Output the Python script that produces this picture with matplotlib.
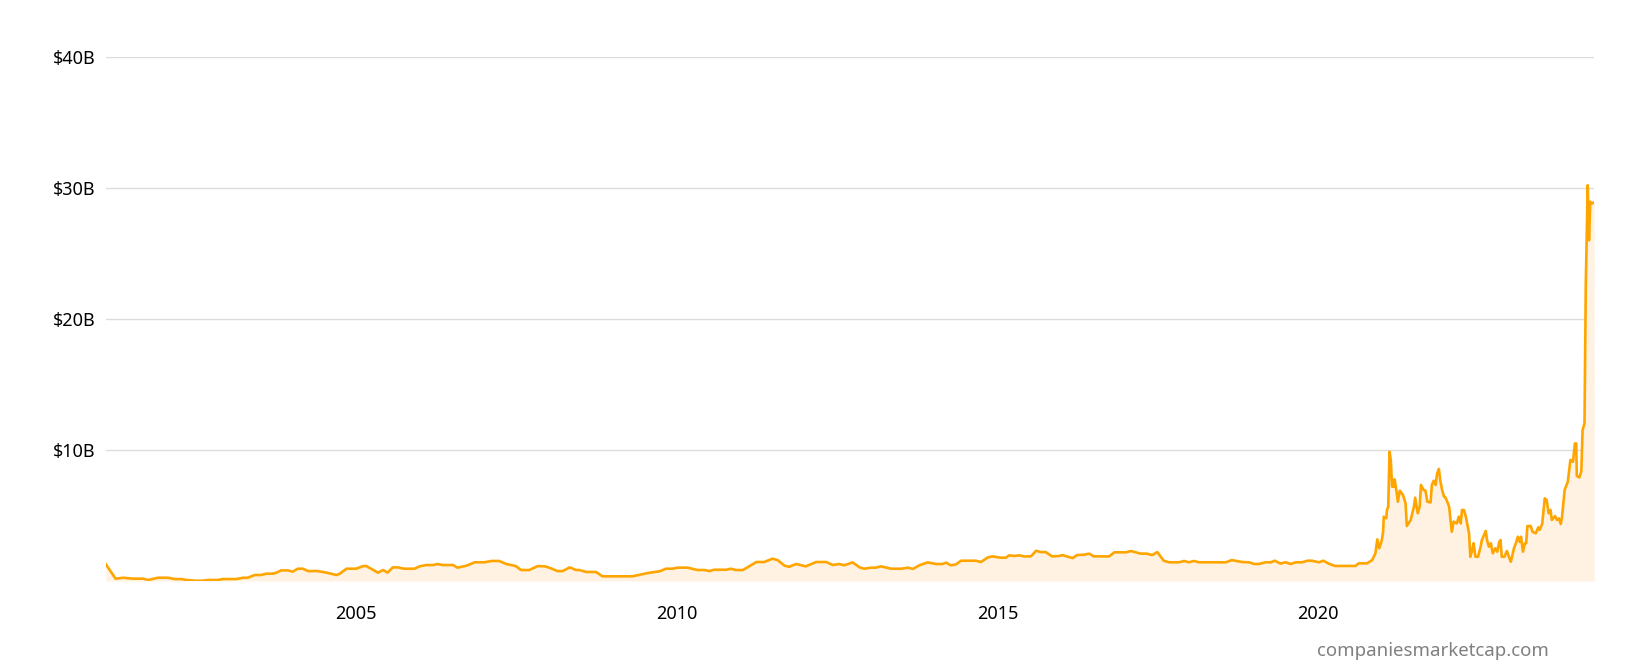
import matplotlib
matplotlib.use('Agg')
import matplotlib.pyplot as plt
from matplotlib.ticker import FuncFormatter

plt.rcParams['font.family'] = ['Noto Sans', 'DejaVu Sans']

# market cap in billions USD, x in decimal years
years = [
	2001.10, 2001.25, 2001.37, 2001.52, 2001.68, 2001.76, 2001.91, 2002.07, 2002.17, 2002.28,
	2002.35, 2002.51, 2002.59, 2002.69, 2002.85, 2002.92, 2003.13, 2003.24, 2003.31, 2003.42,
	2003.52, 2003.60, 2003.70, 2003.76, 2003.83, 2003.94, 2004.01, 2004.09, 2004.17, 2004.25,
	2004.40, 2004.54, 2004.69, 2004.74, 2004.85, 2005.00, 2005.11, 2005.16, 2005.34, 2005.42,
	2005.49, 2005.57, 2005.65, 2005.75, 2005.91, 2005.99, 2006.09, 2006.20, 2006.27, 2006.35,
	2006.51, 2006.58, 2006.72, 2006.85, 2007.00, 2007.11, 2007.23, 2007.34, 2007.49, 2007.57,
	2007.70, 2007.83, 2007.94, 2008.01, 2008.14, 2008.22, 2008.33, 2008.43, 2008.48, 2008.59,
	2008.74, 2008.84, 2009.31, 2009.42, 2009.57, 2009.73, 2009.83, 2009.93, 2010.01, 2010.17,
	2010.32, 2010.43, 2010.51, 2010.58, 2010.77, 2010.84, 2010.92, 2011.03, 2011.24, 2011.36,
	2011.49, 2011.57, 2011.68, 2011.75, 2011.86, 2012.01, 2012.17, 2012.33, 2012.43, 2012.53,
	2012.61, 2012.74, 2012.85, 2012.92, 2013.03, 2013.10, 2013.18, 2013.34, 2013.50, 2013.60,
	2013.68, 2013.78, 2013.91, 2014.04, 2014.14, 2014.20, 2014.27, 2014.35, 2014.43, 2014.66,
	2014.74, 2014.85, 2014.92, 2015.05, 2015.13, 2015.18, 2015.26, 2015.34, 2015.41, 2015.52,
	2015.60, 2015.67, 2015.75, 2015.85, 2015.96, 2016.01, 2016.17, 2016.24, 2016.35, 2016.43,
	2016.50, 2016.74, 2016.82, 2017.00, 2017.08, 2017.23, 2017.33, 2017.41, 2017.49, 2017.59,
	2017.67, 2017.83, 2017.91, 2017.98, 2018.06, 2018.14, 2018.56, 2018.65, 2018.81, 2018.92,
	2019.00, 2019.07, 2019.18, 2019.26, 2019.32, 2019.41, 2019.49, 2019.57, 2019.65, 2019.75,
	2019.83, 2019.90, 2020.01, 2020.08, 2020.16, 2020.26, 2020.58, 2020.63, 2020.76, 2020.84,
	2020.89, 2020.92, 2020.95, 2020.99, 2021.01, 2021.02, 2021.06, 2021.07, 2021.09, 2021.11,
	2021.13, 2021.15, 2021.18, 2021.19, 2021.22, 2021.24, 2021.27, 2021.32, 2021.36, 2021.38,
	2021.44, 2021.49, 2021.51, 2021.55, 2021.58, 2021.60, 2021.64, 2021.67, 2021.70, 2021.75,
	2021.77, 2021.80, 2021.83, 2021.85, 2021.88, 2021.90, 2021.93, 2021.96, 2021.98, 2022.01,
	2022.04, 2022.08, 2022.11, 2022.16, 2022.19, 2022.22, 2022.24, 2022.27, 2022.30, 2022.35,
	2022.37, 2022.40, 2022.42, 2022.45, 2022.49, 2022.53, 2022.55, 2022.61, 2022.63, 2022.66,
	2022.69, 2022.72, 2022.76, 2022.79, 2022.82, 2022.84, 2022.86, 2022.90, 2022.94, 2023.00,
	2023.02, 2023.05, 2023.08, 2023.11, 2023.14, 2023.16, 2023.19, 2023.22, 2023.24, 2023.26,
	2023.31, 2023.34, 2023.39, 2023.43, 2023.45, 2023.49, 2023.53, 2023.56, 2023.59, 2023.62,
	2023.64, 2023.69, 2023.72, 2023.75, 2023.78, 2023.80, 2023.84, 2023.86, 2023.89, 2023.93,
	2023.97, 2024.00, 2024.02, 2024.03, 2024.07, 2024.10, 2024.12, 2024.15, 2024.17, 2024.20,
	2024.22, 2024.24, 2024.26, 2024.30,
]
cap_b = [
	1.27, 0.18, 0.25, 0.18, 0.18, 0.08, 0.25, 0.25, 0.15, 0.15,
	0.08, 0.02, 0.02, 0.08, 0.08, 0.15, 0.15, 0.25, 0.25, 0.46,
	0.46, 0.56, 0.56, 0.64, 0.81, 0.81, 0.71, 0.94, 0.94, 0.76,
	0.76, 0.64, 0.46, 0.54, 0.94, 0.94, 1.14, 1.14, 0.64, 0.84,
	0.64, 1.04, 1.04, 0.94, 0.94, 1.12, 1.22, 1.22, 1.30, 1.22,
	1.22, 1.02, 1.17, 1.43, 1.43, 1.53, 1.53, 1.30, 1.14, 0.84,
	0.84, 1.14, 1.12, 1.02, 0.76, 0.76, 1.04, 0.84, 0.84, 0.69,
	0.69, 0.36, 0.36, 0.48, 0.63, 0.74, 0.94, 0.94, 1.02, 1.02,
	0.84, 0.84, 0.76, 0.86, 0.86, 0.94, 0.84, 0.84, 1.45, 1.45,
	1.70, 1.60, 1.17, 1.09, 1.30, 1.12, 1.45, 1.45, 1.22, 1.30,
	1.20, 1.42, 1.04, 0.94, 1.02, 1.02, 1.12, 0.94, 0.94, 1.02,
	0.92, 1.20, 1.42, 1.30, 1.30, 1.40, 1.20, 1.27, 1.55, 1.55,
	1.45, 1.81, 1.88, 1.78, 1.78, 1.96, 1.91, 1.96, 1.88, 1.88,
	2.31, 2.21, 2.21, 1.88, 1.91, 1.98, 1.75, 1.98, 2.01, 2.09,
	1.88, 1.88, 2.19, 2.19, 2.29, 2.09, 2.09, 1.98, 2.21, 1.55,
	1.43, 1.43, 1.53, 1.43, 1.53, 1.43, 1.43, 1.60, 1.45, 1.43,
	1.30, 1.30, 1.43, 1.43, 1.55, 1.33, 1.43, 1.30, 1.43, 1.43,
	1.55, 1.55, 1.43, 1.55, 1.33, 1.15, 1.15, 1.35, 1.35, 1.60,
	2.11, 3.18, 2.50, 3.10, 3.76, 4.91, 4.80, 5.42, 5.67, 9.87,
	9.24, 7.20, 7.20, 7.76, 6.82, 6.05, 6.90, 6.56, 5.93, 4.20,
	4.66, 5.67, 6.36, 5.17, 5.67, 7.33, 6.95, 6.90, 6.05, 6.00,
	7.33, 7.66, 7.33, 8.17, 8.55, 7.70, 6.95, 6.44, 6.40, 6.05,
	5.67, 3.76, 4.53, 4.40, 4.91, 4.40, 5.42, 5.42, 4.91, 3.64,
	1.85, 2.37, 2.88, 1.85, 1.85, 2.62, 3.13, 3.82, 3.13, 2.62,
	2.88, 2.11, 2.50, 2.24, 2.98, 3.13, 1.85, 1.85, 2.29, 1.47,
	1.85, 2.50, 2.88, 3.38, 2.98, 3.38, 2.24, 2.88, 2.88, 4.20,
	4.20, 3.76, 3.64, 4.10, 3.90, 4.35, 6.31, 6.18, 5.17, 5.42,
	4.66, 4.96, 4.66, 4.78, 4.35, 4.91, 6.95, 7.20, 7.58, 9.24,
	9.10, 10.50, 10.50, 8.02, 7.90, 8.37, 11.53, 12.04, 22.7, 30.2,
	26.0, 28.95, 28.8, 28.9,
]

y_ticks = [10, 20, 30, 40]
x_ticks = [2005, 2010, 2015, 2020]

LINE = "#ffa500"
FILL = "#fff2e2"

fig = plt.figure(figsize=(16.3, 6.69), dpi=100)
ax = fig.add_axes([0.065, 0.1315, 0.913, 0.7835])

ax.fill_between(years, cap_b, 0, color=FILL, linewidth=0, zorder=1)
ax.plot(years, cap_b, color=LINE, linewidth=1.9, zorder=3, solid_joinstyle="round")

ax.set_xlim(years[0], years[-1])
ax.set_ylim(0, 40)
ax.set_yticks(y_ticks)
ax.set_xticks(x_ticks)
ax.yaxis.set_major_formatter(FuncFormatter(lambda v, p: "$%dB" % v))
ax.xaxis.set_major_formatter(FuncFormatter(lambda v, p: "%d" % v))

ax.grid(axis="y", color="#dcdcdc", linewidth=1, zorder=0)
ax.set_axisbelow(True)
for s in ax.spines.values():
	s.set_visible(False)
ax.tick_params(axis="both", length=0, labelsize=13, colors="#000000")
ax.tick_params(axis="y", pad=7.5)
ax.tick_params(axis="x", pad=17)

fig.text(0.879, 0.027, "companiesmarketcap.com", color="#808080",
	fontsize=13.4, ha="center", va="center")

plt.savefig("out.png", dpi=100)
